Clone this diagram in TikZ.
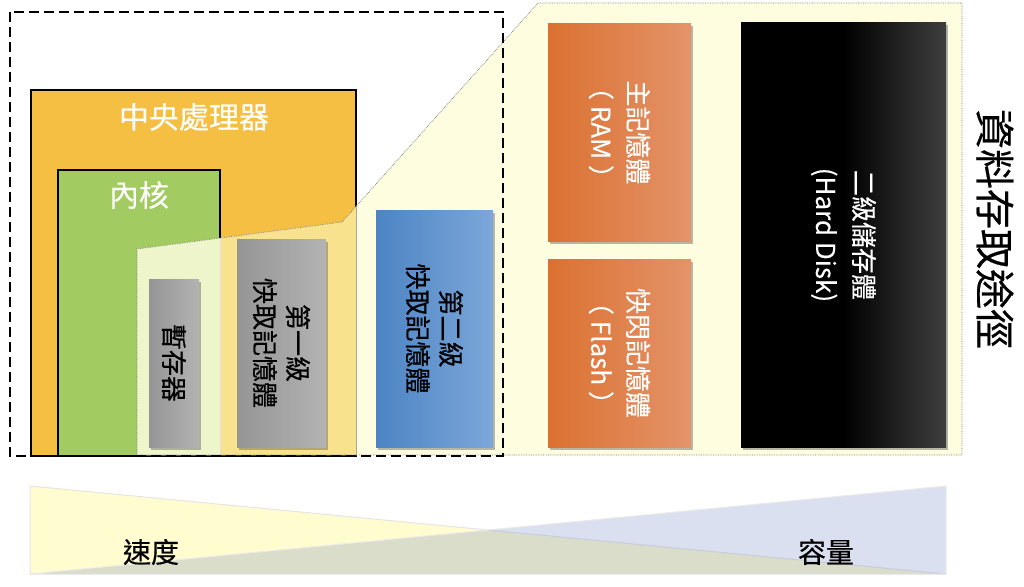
\documentclass[tikz,border=0pt]{standalone}
\usepackage{fontspec}
\setmainfont{Noto Sans CJK TC}
\newfontfamily\heavycjk{Noto Sans CJK TC}[FakeBold=0.5]
\newfontfamily\medcjk{Noto Sans CJK TC}[FakeBold=0.2]
\usetikzlibrary{shadows}
\definecolor{cpuC}{HTML}{F4BF42}
\definecolor{coreC}{HTML}{A2CB62}
\definecolor{zoomC}{HTML}{FFFDE0}
\definecolor{cpuZ}{HTML}{F9E28E}
\definecolor{coreZ}{HTML}{EEF5CA}
\definecolor{grayL}{HTML}{959595}
\definecolor{grayR}{HTML}{B3B3B3}
\definecolor{blueL}{HTML}{4D84C4}
\definecolor{blueR}{HTML}{7CA7D9}
\definecolor{orgL}{HTML}{DB7130}
\definecolor{orgR}{HTML}{E4936A}
\definecolor{hddR}{HTML}{3E3E3E}
\definecolor{triY}{HTML}{FFFCCF}
\definecolor{triB}{HTML}{5F7ABB}
\tikzset{
  framebox/.style={draw=black, line width=1.8pt, inner sep=0pt, outer sep=0pt, anchor=north west},
  membox/.style={inner sep=0pt, outer sep=0pt,
    drop shadow={shadow xshift=1.5pt, shadow yshift=-2.5pt, opacity=0.4, fill=black!70}},
  vtext/.style={rotate=-90, align=center, inner sep=0pt},
  htext/.style={inner sep=0pt},
}
\begin{document}
\begin{tikzpicture}[x=1pt,y=-1pt]
\useasboundingbox (0,0) rectangle (1024,586);
% CPU and core
\node[framebox, fill=cpuC, minimum width=325pt, minimum height=366pt] (cpu) at (31,90) {};
\node[framebox, fill=coreC, minimum width=162pt, minimum height=286pt] (core) at (58,170) {};
% zoom trapezoid
\fill[zoomC] (137,249) -- (342,222) -- (538,3) -- (962,3) -- (962,455) -- (137,455) -- cycle;
\begin{scope}
  \clip (137,249) -- (342,222) -- (538,3) -- (962,3) -- (962,455) -- (137,455) -- cycle;
  \fill[cpuZ] (31,90) rectangle (356,456);
  \fill[coreZ] (58,170) rectangle (220,456);
  \draw[black!35, line width=1pt] (356,90) -- (356,456);
  \draw[black!12, line width=1pt] (220,170) -- (220,456);
\end{scope}
\draw[black!55, densely dotted, line width=0.7pt] (137,455) -- (137,249) -- (342,222) -- (538,3) -- (962,3) -- (962,455) -- (137,455);
% dashed frame
\draw[black, line width=1.5pt, dash pattern=on 10pt off 5pt] (10,12) rectangle (503,456);
% texts of CPU/core
\node[htext, text=white, font=\medcjk\fontsize{30pt}{34pt}\selectfont] (cputext) at (194,117) {中央處理器};
\node[htext, text=white, font=\medcjk\fontsize{30pt}{34pt}\selectfont] (coretext) at (139,195) {內核};
% memory boxes
\node[membox, left color=grayL, right color=grayR, minimum width=50pt, minimum height=168pt] (reg) at (174,363) {};
\node[membox, left color=grayL, right color=grayR, minimum width=89pt, minimum height=208pt] (l1) at (281.5,343) {};
\node[membox, left color=blueL, right color=blueR, minimum width=117pt, minimum height=237pt] (l2) at (434.5,328.5) {};
\node[membox, left color=orgL, right color=orgR, minimum width=143pt, minimum height=217pt] (ram) at (619.5,132.5) {};
\node[membox, left color=orgL, right color=orgR, minimum width=143pt, minimum height=188pt] (flash) at (619.5,353) {};
\node[membox, left color=black, right color=hddR, middle color=black, minimum width=205pt, minimum height=424pt] (hdd) at (843.5,235) {};
% memory texts
\node[vtext, font=\heavycjk\fontsize{26pt}{33pt}\selectfont] (regt) at (reg.center) {暫存器};
\node[vtext, font=\heavycjk\fontsize{26pt}{33pt}\selectfont] (l1t) at (l1.center) {第一級\\快取記憶體};
\node[vtext, font=\heavycjk\fontsize{26pt}{33pt}\selectfont] (l2t) at (l2.center) {第二級\\快取記憶體};
\node[vtext, text=white, font=\medcjk\fontsize{26pt}{37pt}\selectfont] (ramt) at (ram.center) {主記憶體\\（ RAM ）};
\node[vtext, text=white, font=\medcjk\fontsize{26pt}{37pt}\selectfont] (flasht) at (flash.center) {快閃記憶體\\（ Flash ）};
\node[vtext, text=white, font=\medcjk\fontsize{26pt}{38pt}\selectfont] (hddt) at (hdd.center) {二級儲存體\\(Hard Disk)};
\node[vtext, font=\heavycjk\fontsize{40pt}{44pt}\selectfont] (path) at (995,229) {資料存取途徑};
% bottom triangles
\fill[triY, draw=black!10, line width=1pt] (30,486) -- (30,574) -- (946,574) -- cycle;
\fill[triB, fill opacity=0.23, draw=black!8, line width=1pt] (30,574) -- (946,486) -- (946,574) -- cycle;
\node[htext, font=\heavycjk\fontsize{28pt}{32pt}\selectfont] (speed) at (151,552) {速度};
\node[htext, font=\heavycjk\fontsize{28pt}{32pt}\selectfont] (cap) at (826,552) {容量};
\end{tikzpicture}
\end{document}
